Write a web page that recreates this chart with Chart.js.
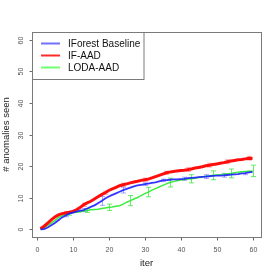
<!DOCTYPE html>
<html>
<head>
<meta charset="utf-8">
<script src="https://cdn.jsdelivr.net/npm/chart.js@4/dist/chart.umd.min.js"></script>
<style>
html,body{margin:0;padding:0;background:#fff;}
canvas{display:block;}
</style>
</head>
<body>
<canvas id="c" width="277" height="277"></canvas>
<script>
const iterations = Array.from({length: 60}, (_, i) => i + 1);
const baseline = [0.0,0.1,0.6,1.3,2.0,2.9,3.8,4.4,5.0,5.3,5.6,5.9,6.1,6.6,7.1,7.6,8.3,9.0,9.8,10.4,10.9,11.4,11.9,12.4,12.8,13.2,13.6,13.9,14.1,14.3,14.5,14.7,14.9,15.2,15.5,15.6,15.7,15.8,15.8,15.9,16.0,16.2,16.3,16.4,16.5,16.6,16.7,16.8,16.9,17.0,17.0,17.1,17.2,17.3,17.4,17.5,17.7,17.8,18.0,18.2];
const ifAad = [0.2,1.0,2.0,3.0,3.9,4.6,5.0,5.2,5.4,5.7,6.2,6.9,7.8,8.4,8.9,9.6,10.3,11.0,11.6,12.3,12.8,13.3,13.8,14.1,14.4,14.7,15.0,15.2,15.5,15.7,15.9,16.3,16.7,17.1,17.5,17.9,18.1,18.3,18.5,18.6,18.7,18.9,19.1,19.4,19.6,19.8,20.1,20.3,20.5,20.7,20.9,21.1,21.4,21.6,21.8,22.0,22.1,22.3,22.5,22.4];
const lodaAad = [0.0,0.6,1.3,2.0,2.8,3.7,4.3,4.7,5.0,5.3,5.4,5.6,5.8,6.0,6.2,6.3,6.4,6.6,6.8,7.0,7.1,7.3,7.5,8.0,8.6,9.1,9.6,10.1,10.7,11.3,11.8,12.4,12.9,13.4,13.9,14.4,14.8,15.1,15.4,15.6,15.8,15.9,16.0,16.2,16.4,16.6,16.8,16.9,17.1,17.2,17.3,17.4,17.6,17.7,17.9,18.1,18.2,18.3,18.4,18.5];

// error bars: iteration and half-width
const baselineErrIter = [8,13,18,24,30,35,41,47,52,58];
const baselineErr = [0.4,0.5,1.4,0.9,0.4,0.4,0.5,0.6,0.6,0.5];
const ifAadErrIter = [8,13,19,24,30,36,42,48,53,59];
const ifAadErr = [0.5,0.5,0.5,0.5,0.5,0.5,0.6,0.6,0.6,0.6];
const lodaErrIter = [9,14,20,26,31,37,43,49,54,60];
const lodaErr = [0.5,0.6,1.0,1.6,1.5,1.4,1.3,1.4,1.4,1.8];

const xTicks = [0,10,20,30,40,50,60];
const yTicks = [0,10,20,30,40,50,60];
const seriesNames = ['IForest Baseline','IF-AAD','LODA-AAD'];
const xTitle = 'iter';
const yTitle = '# anomalies seen';

const FONT = '"Liberation Sans", Arial, Helvetica, sans-serif';

function pts(ys){ return iterations.map((x,i)=>({x:x,y:ys[i]})); }

const errSets = [
  {iters: baselineErrIter, err: baselineErr, vals: baseline, color: 'rgba(60,60,255,0.45)'},
  {iters: ifAadErrIter, err: ifAadErr, vals: ifAad, color: 'rgba(255,60,60,0.45)'},
  {iters: lodaErrIter, err: lodaErr, vals: lodaAad, color: 'rgba(40,230,40,0.7)'}
];
const legendColors = ['#7070ff','#ff2a2a','#70ff70'];

const rPlugin = {
  id: 'rstyle',
  beforeDatasetsDraw(chart){
    const ctx = chart.ctx, xs = chart.scales.x, ys = chart.scales.y;
    ctx.save();
    ctx.lineWidth = 1;
    errSets.forEach(s=>{
      ctx.strokeStyle = s.color;
      s.iters.forEach((it,i)=>{
        const v = s.vals[it-1];
        const px = Math.round(xs.getPixelForValue(it))+0.5;
        const y1 = ys.getPixelForValue(v - s.err[i]);
        const y2 = ys.getPixelForValue(v + s.err[i]);
        ctx.beginPath();
        ctx.moveTo(px,y1); ctx.lineTo(px,y2);
        ctx.moveTo(px-2.5,y1); ctx.lineTo(px+2.5,y1);
        ctx.moveTo(px-2.5,y2); ctx.lineTo(px+2.5,y2);
        ctx.stroke();
      });
    });
    ctx.restore();
  },
  afterDraw(chart){
    const ctx = chart.ctx, a = chart.chartArea, xs = chart.scales.x, ys = chart.scales.y;
    ctx.save();
    // box
    ctx.strokeStyle = '#7a7a7a';
    ctx.lineWidth = 1;
    ctx.strokeRect(Math.round(a.left)+0.5, Math.round(a.top)+0.5, Math.round(a.right-a.left), Math.round(a.bottom-a.top));
    // x ticks
    ctx.strokeStyle = '#6a6a6a';
    ctx.fillStyle = '#555';
    ctx.font = '7px ' + FONT;
    ctx.textAlign = 'center';
    ctx.textBaseline = 'middle';
    const bottom = Math.round(a.bottom)+0.5;
    xTicks.forEach(t=>{
      const px = Math.round(xs.getPixelForValue(t))+0.5;
      ctx.beginPath(); ctx.moveTo(px,bottom); ctx.lineTo(px,bottom+3); ctx.stroke();
      ctx.fillText(String(t), px, bottom+13);
    });
    const left = Math.round(a.left)+0.5;
    yTicks.forEach(t=>{
      const py = Math.round(ys.getPixelForValue(t))+0.5;
      ctx.beginPath(); ctx.moveTo(left,py); ctx.lineTo(left-3,py); ctx.stroke();
      ctx.save();
      ctx.translate(left-11.5, py);
      ctx.rotate(-Math.PI/2);
      ctx.fillText(String(t), 0, 0);
      ctx.restore();
    });
    // axis titles
    ctx.fillStyle = '#222';
    ctx.font = '9.5px ' + FONT;
    ctx.fillText(xTitle, (a.left+a.right)/2, 263.5);
    ctx.save();
    ctx.translate(6.5, (a.top+a.bottom)/2);
    ctx.rotate(-Math.PI/2);
    ctx.fillText(yTitle, 0, 0);
    ctx.restore();
    // legend
    const lx = left, ly = Math.round(a.top)+0.5;
    ctx.fillStyle = '#fff';
    ctx.fillRect(lx, ly, 111.5, 47);
    ctx.strokeStyle = '#7a7a7a';
    ctx.strokeRect(lx, ly, 111.5, 47);
    ctx.font = '10px ' + FONT;
    ctx.textAlign = 'left';
    ctx.fillStyle = '#111';
    seriesNames.forEach((n,i)=>{
      const yy = 43.5 + i*12;
      ctx.strokeStyle = legendColors[i];
      ctx.lineWidth = 2;
      ctx.beginPath(); ctx.moveTo(41,yy); ctx.lineTo(60,yy); ctx.stroke();
      ctx.fillText(n, 68, yy+0.5);
    });
    ctx.restore();
  }
};

new Chart(document.getElementById('c'), {
  type: 'line',
  data: {
    datasets: [
      {label: seriesNames[0], data: pts(baseline), borderColor: 'rgba(30,30,255,0.9)', borderWidth: 1.8, pointRadius: 0, tension: 0, fill: false},
      {label: seriesNames[1], data: pts(ifAad), borderColor: 'rgba(255,0,0,0.95)', borderWidth: 3, pointRadius: 0, tension: 0, fill: false},
      {label: seriesNames[2], data: pts(lodaAad), borderColor: 'rgba(40,235,40,0.9)', borderWidth: 1.5, pointRadius: 0, tension: 0, fill: false}
    ]
  },
  options: {
    responsive: false,
    animation: false,
    devicePixelRatio: 1,
    layout: {padding: {left: 32, top: 32, right: 16, bottom: 40}},
    plugins: {legend: {display: false}, tooltip: {enabled: false}},
    scales: {
      x: {type: 'linear', min: -1.36, max: 62.36, display: false},
      y: {type: 'linear', min: -2.4, max: 62.4, display: false}
    }
  },
  plugins: [rPlugin]
});
</script>
</body>
</html>
